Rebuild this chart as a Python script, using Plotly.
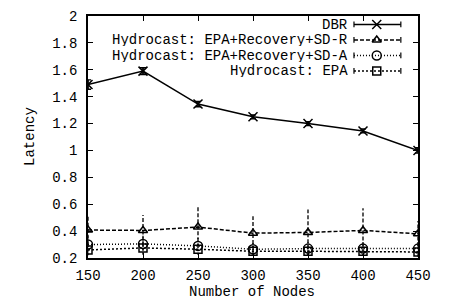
import plotly.graph_objects as go

nodes = [150, 200, 250, 300, 350, 400, 450]
dbr = [1.49, 1.59, 1.345, 1.25, 1.2, 1.145, 1.0]
dbr_err = [0.035, 0.025, 0.02, 0.015, 0.015, 0.015, 0.02]
sdr = [0.408, 0.405, 0.43, 0.385, 0.39, 0.405, 0.38]
sdr_err = [0.11, 0.115, 0.15, 0.125, 0.17, 0.165, 0.095]
sda = [0.3, 0.305, 0.29, 0.265, 0.27, 0.27, 0.27]
sda_err = [0.06, 0.07, 0.06, 0.05, 0.05, 0.05, 0.05]
epa = [0.26, 0.275, 0.265, 0.25, 0.25, 0.25, 0.245]
epa_err = [0.04, 0.05, 0.04, 0.035, 0.035, 0.035, 0.035]
y_ticks = [0.2, 0.4, 0.6, 0.8, 1, 1.2, 1.4, 1.6, 1.8, 2]
y_ticktext = ["0.2", "0.4", "0.6", "0.8", "1", "1.2", "1.4", "1.6", "1.8", "2"]

names = ["DBR", "Hydrocast: EPA+Recovery+SD-R", "Hydrocast: EPA+Recovery+SD-A", "Hydrocast: EPA"]
series = [dbr, sdr, sda, epa]
errs = [dbr_err, sdr_err, sda_err, epa_err]
dashes = ["solid", "4px,2px", "1px,2px", "2px,2px"]
symbols = ["x-thin-open", "triangle-up-open", "circle-open", "square-open"]
msizes = [9, 8, 9, 8]

FONT = "Liberation Mono"
FS = 14
fig = go.Figure()

for name, ys, es, dsh, sym, ms in zip(names, series, errs, dashes, symbols, msizes):
    ex, ey = [], []
    for x, y, e in zip(nodes, ys, es):
        ex += [x, x, None]
        ey += [y - e, y + e, None]
    fig.add_trace(go.Scatter(x=ex, y=ey, mode="lines",
                             line=dict(color="black", width=1.3, dash=dsh),
                             showlegend=False, hoverinfo="skip"))
    fig.add_trace(go.Scatter(x=nodes, y=ys, mode="lines+markers", name=name,
                             line=dict(color="black", width=1.5, dash=dsh),
                             marker=dict(symbol=sym, size=ms, color="black",
                                         line=dict(width=1.5, color="black")),
                             error_y=dict(type="data", array=es, visible=(dsh == "solid"),
                                          color="black", thickness=1.3, width=3),
                             showlegend=False))

# gnuplot-style key: text right-aligned, sample to its right
rows = [0.965, 0.901, 0.837, 0.773]
x0, x1, xm, xt = 0.806, 0.948, 0.875, 0.792
for name, ry, dsh, sym, ms in zip(names, rows, dashes, symbols, msizes):
    fig.add_annotation(x=xt, y=ry, xref="paper", yref="paper", text=name,
                       showarrow=False, xanchor="right", yanchor="middle", height=13, borderpad=0,
                       font=dict(family=FONT, size=FS, color="black"))
    fig.add_trace(go.Scatter(x=[x0, x1], y=[ry, ry], mode="lines",
                             line=dict(color="black", width=1.5, dash=dsh),
                             xaxis="x2", yaxis="y2", showlegend=False, hoverinfo="skip"))
    fig.add_trace(go.Scatter(x=[x0, x0, None, x1, x1], y=[ry - 0.012, ry + 0.012, None, ry - 0.012, ry + 0.012],
                             mode="lines", line=dict(color="black", width=1.2),
                             xaxis="x2", yaxis="y2", showlegend=False, hoverinfo="skip"))
    fig.add_trace(go.Scatter(x=[xm], y=[ry], mode="markers",
                             marker=dict(symbol=sym, size=ms, color="black",
                                         line=dict(width=1.5, color="black")),
                             xaxis="x2", yaxis="y2", showlegend=False, hoverinfo="skip"))

# axis titles
fig.add_annotation(x=-0.176, y=0.504, xref="paper", yref="paper", text="Latency", textangle=-90,
                   showarrow=False, xanchor="center", yanchor="middle", borderpad=0,
                   font=dict(family=FONT, size=FS, color="black"))
fig.add_annotation(x=0.497, y=-0.138, xref="paper", yref="paper", text="Number of Nodes",
                   showarrow=False, xanchor="center", yanchor="middle", height=15, borderpad=0,
                   font=dict(family=FONT, size=FS, color="black"))

axis_common = dict(showline=True, linecolor="black", linewidth=1.5, mirror="allticks",
                   ticks="inside", ticklen=5, tickcolor="black", tickwidth=1,
                   showgrid=False, zeroline=False, automargin=False,
                   tickfont=dict(family=FONT, size=FS, color="black"))

fig.update_layout(
    width=456, height=299,
    margin=dict(l=80, r=46, t=8, b=49),
    paper_bgcolor="white", plot_bgcolor="white",
    showlegend=False,
    xaxis=dict(range=[150, 450], tickvals=nodes, ticklabelstandoff=3, **axis_common),
    yaxis=dict(range=[0.2, 2], tickvals=y_ticks, ticktext=y_ticktext, ticklabelstandoff=6, **axis_common),
    xaxis2=dict(domain=[0, 1], range=[0, 1], overlaying="x", visible=False, anchor="y2"),
    yaxis2=dict(domain=[0, 1], range=[0, 1], overlaying="y", visible=False, anchor="x2"),
)

fig.write_html("out.html")
